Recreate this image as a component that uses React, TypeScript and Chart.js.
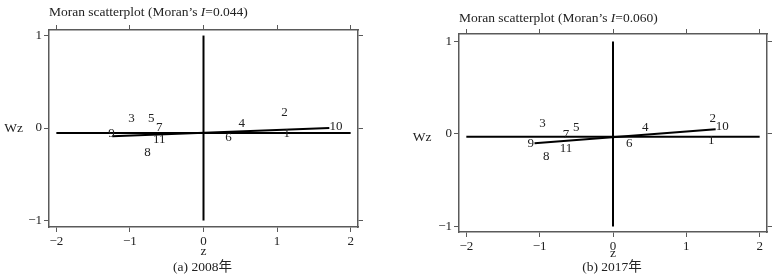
import React, { useEffect, useRef } from "react";
import { Chart, registerables } from "chart.js";

Chart.register(...registerables);

// ---- data ----
const regionLabels = ["1", "2", "3", "4", "5", "6", "7", "8", "9", "10", "11"];

const z2008 = [1.13, 1.1, -0.98, 0.52, -0.71, 0.34, -0.6, -0.76, -1.25, 1.8, -0.6];
const wz2008 = [-0.06, 0.17, 0.105, 0.05, 0.105, -0.1, 0.0, -0.27, -0.06, 0.02, -0.13];
const fitZ2008 = [-1.24, 1.71];
const fitWz2008 = [-0.09, 0.0];
const meanWz2008 = -0.054;

const z2017 = [1.34, 1.36, -0.96, 0.44, -0.5, 0.22, -0.64, -0.91, -1.12, 1.49, -0.64];
const wz2017 = [-0.075, 0.17, 0.11, 0.07, 0.065, -0.1, -0.01, -0.24, -0.1, 0.08, -0.16];
const fitZ2017 = [-1.07, 1.4];
const fitWz2017 = [-0.1, 0.05];
const meanWz2017 = -0.03;

const xTickValues = [-2, -1, 0, 1, 2];
const yTickValues = [-1, 0, 1];
const hLineZ = [-2, 2];
const vLineWz = [-1, 1];

const FONT = "'Liberation Serif', 'Times New Roman', 'Noto Sans CJK SC', serif";
const TEXT = "#222";
const FRAME = "#5a5a5a";

type Panel = {
  width: number;
  z: number[];
  wz: number[];
  fitZ: number[];
  fitWz: number[];
  meanWz: number;
  moranI: string;
  caption: string;
  yMin: number;
  yMax: number;
  areaLeft: number;
  areaRight: number;
  areaTop: number;
  areaBottom: number;
  titleY: number;
  wzX: number;
  wzY: number;
  zY: number;
  captionY: number;
};

const fmt = (v: number) => (v < 0 ? "\u2212" + Math.abs(v) : String(v));

function buildConfig(p: Panel): any {
  const textPlugin = {
    id: "panelText",
    afterDatasetsDraw(chart: any) {
      const ctx = chart.ctx as CanvasRenderingContext2D;
      const area = chart.chartArea;
      ctx.save();
      ctx.fillStyle = TEXT;
      // point labels
      const meta = chart.getDatasetMeta(3);
      ctx.font = `13px ${FONT}`;
      ctx.textAlign = "center";
      ctx.textBaseline = "middle";
      meta.data.forEach((el: any, i: number) => {
        ctx.fillText(regionLabels[i], el.x, el.y);
      });
      // title with italic I
      ctx.textAlign = "left";
      const tf = `13.5px ${FONT}`;
      ctx.font = tf;
      const a = "Moran scatterplot (Moran\u2019s ";
      const b = "I";
      const c = "=" + p.moranI + ")";
      let x = area.left;
      ctx.fillText(a, x, p.titleY);
      x += ctx.measureText(a).width;
      ctx.font = `italic 13.5px ${FONT}`;
      ctx.fillText(b, x, p.titleY);
      x += ctx.measureText(b).width;
      ctx.font = tf;
      ctx.fillText(c, x, p.titleY);
      // axis titles and caption
      ctx.textAlign = "center";
      ctx.font = `13.5px ${FONT}`;
      ctx.fillText("Wz", p.wzX, p.wzY);
      const zx = chart.scales.x.getPixelForValue(0);
      ctx.fillText("z", zx, p.zY);
      ctx.fillText(p.caption, zx - 1, p.captionY);
      ctx.restore();
    },
  };

  const xTicksFromData = (scale: any) => {
    scale.ticks = xTickValues.map((v) => ({ value: v }));
  };
  const yTicksFromData = (scale: any) => {
    scale.ticks = yTickValues.map((v) => ({ value: v }));
  };

  const grid = {
    drawOnChartArea: false,
    drawTicks: true,
    tickLength: 5,
    color: FRAME,
    lineWidth: 1,
  };
  const border = { display: true, color: FRAME, width: 1.5 };
  const tickFont = { family: FONT, size: 13 };

  const line = (data: any[]) => ({
    data,
    showLine: true,
    borderColor: "#000",
    borderWidth: 2,
    pointRadius: 0,
    fill: false,
  });

  return {
    type: "scatter",
    data: {
      datasets: [
        line(hLineZ.map((v) => ({ x: v, y: p.meanWz }))),
        line(vLineWz.map((v) => ({ x: 0, y: v }))),
        line(p.fitZ.map((v, i) => ({ x: v, y: p.fitWz[i] }))),
        {
          data: p.z.map((v, i) => ({ x: v, y: p.wz[i] })),
          pointRadius: 0,
          showLine: false,
        },
      ],
    },
    options: {
      animation: false,
      responsive: false,
      devicePixelRatio: 1,
      layout: { padding: 0 },
      plugins: {
        legend: { display: false },
        tooltip: { enabled: false },
        title: { display: false },
      },
      scales: {
        x: {
          type: "linear",
          axis: "x",
          position: "bottom",
          min: -2.1,
          max: 2.1,
          afterBuildTicks: xTicksFromData,
          afterFit: (s: any) => {
            s.height = 280 - p.areaBottom;
          },
          ticks: { font: tickFont, color: TEXT, padding: 2, callback: (v: any) => fmt(Number(v)) },
          grid,
          border,
        },
        x2: {
          type: "linear",
          axis: "x",
          position: "top",
          min: -2.1,
          max: 2.1,
          afterBuildTicks: xTicksFromData,
          afterFit: (s: any) => {
            s.height = p.areaTop;
          },
          ticks: { display: false },
          grid,
          border,
        },
        y: {
          type: "linear",
          axis: "y",
          position: "left",
          min: p.yMin,
          max: p.yMax,
          afterBuildTicks: yTicksFromData,
          afterFit: (s: any) => {
            s.width = p.areaLeft;
          },
          ticks: { font: tickFont, color: TEXT, padding: 2, callback: (v: any) => fmt(Number(v)) },
          grid,
          border,
        },
        y2: {
          type: "linear",
          axis: "y",
          position: "right",
          min: p.yMin,
          max: p.yMax,
          afterBuildTicks: yTicksFromData,
          afterFit: (s: any) => {
            s.width = p.width - p.areaRight;
          },
          ticks: { display: false },
          grid,
          border,
        },
      },
    },
    plugins: [textPlugin],
  };
}

const panelA: Panel = {
  width: 390,
  z: z2008,
  wz: wz2008,
  fitZ: fitZ2008,
  fitWz: fitWz2008,
  meanWz: meanWz2008,
  moranI: "0.044",
  caption: "(a) 2008\u5e74",
  yMin: -1.07,
  yMax: 1.06,
  areaLeft: 49,
  areaRight: 358,
  areaTop: 30,
  areaBottom: 227,
  titleY: 12,
  wzX: 13.5,
  wzY: 128,
  zY: 251,
  captionY: 267,
};

const panelB: Panel = {
  width: 393,
  z: z2017,
  wz: wz2017,
  fitZ: fitZ2017,
  fitWz: fitWz2017,
  meanWz: meanWz2017,
  moranI: "0.060",
  caption: "(b) 2017\u5e74",
  yMin: -1.06,
  yMax: 1.08,
  areaLeft: 69,
  areaRight: 377,
  areaTop: 34,
  areaBottom: 232,
  titleY: 18,
  wzX: 32,
  wzY: 137,
  zY: 253,
  captionY: 267.5,
};

function MoranPanel({ panel, left }: { panel: Panel; left: number }) {
  const ref = useRef<HTMLCanvasElement | null>(null);
  useEffect(() => {
    if (!ref.current) return;
    const chart = new Chart(ref.current, buildConfig(panel));
    return () => chart.destroy();
  }, [panel]);
  return (
    <canvas
      ref={ref}
      width={panel.width}
      height={280}
      style={{ position: "absolute", left, top: 0, width: panel.width, height: 280 }}
    />
  );
}

export default function App() {
  return (
    <div
      style={{
        position: "absolute",
        left: 0,
        top: 0,
        width: 783,
        height: 280,
        background: "#fff",
        overflow: "hidden",
      }}
    >
      <MoranPanel panel={panelA} left={0} />
      <MoranPanel panel={panelB} left={390} />
    </div>
  );
}
